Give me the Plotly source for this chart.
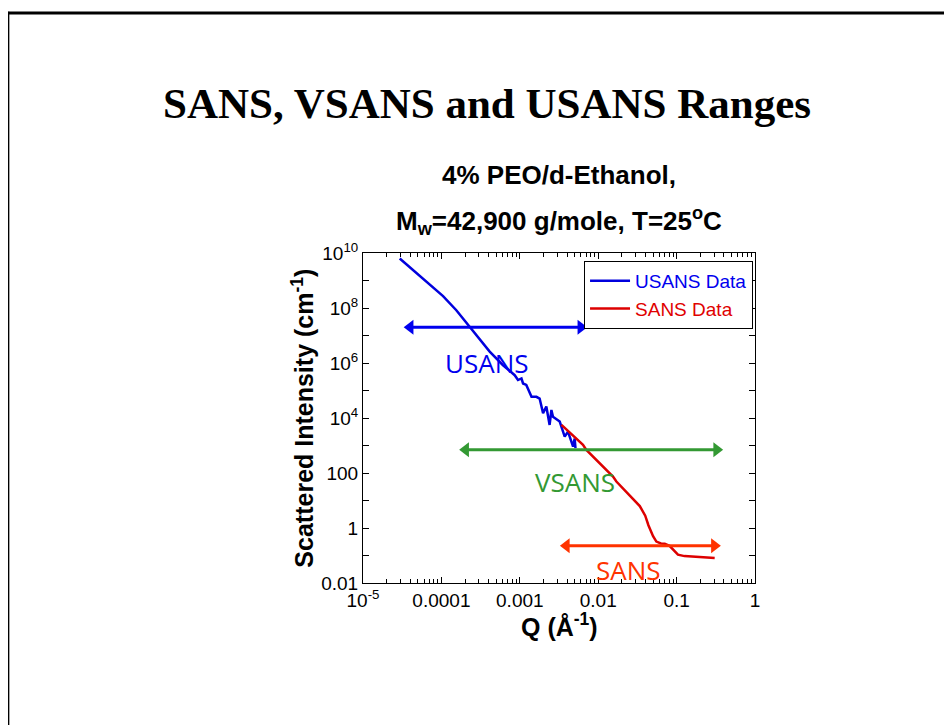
import numpy as np
import plotly.graph_objects as go

# ---------------- data ----------------
usans_q = [2.94e-5, 4.14e-5, 5.82e-5, 7.82e-5, 1.05e-4, 1.55e-4, 2.30e-4, 3.24e-4, 4.13e-4,
           6.11e-4, 8.61e-4, 9.48e-4, 1.05e-3, 1.10e-3, 1.21e-3, 1.41e-3, 1.63e-3, 1.79e-3,
           1.98e-3, 2.18e-3, 2.40e-3, 2.53e-3, 2.65e-3, 3.23e-3, 3.74e-3, 4.12e-3, 4.78e-3,
           5.01e-3, 5.13e-3]
usans_i = [6.3e9, 2.7e9, 1.17e9, 5.9e8, 2.7e8, 8.3e7, 2.0e7, 5.9e6, 2.6e6,
           8.3e5, 3.6e5, 2.4e5, 2.75e5, 1.8e5, 1.6e5, 5.9e4, 5.9e4, 5.1e4,
           1.5e4, 2.6e4, 5.6e3, 1.95e4, 1.1e4, 7.4e3, 2.1e3, 3.2e3, 910,
           1.8e3, 800]

sans_q = [3.40e-3, 6.40e-3, 7.06e-3, 0.01045, 0.01545, 0.01706, 0.0229, 0.0265, 0.0339,
          0.0398, 0.0437, 0.0501, 0.0552, 0.0631, 0.0705, 0.0813, 0.0933, 0.104, 0.126,
          0.147, 0.200, 0.306]
sans_i = [5600, 1050, 690, 229, 74, 49, 20, 13.8, 6.3,
          2.8, 1.26, 0.50, 0.32, 0.275, 0.27, 0.224, 0.141, 0.107, 0.095,
          0.093, 0.085, 0.081]

range_names = ["USANS", "VSANS", "SANS"]
range_qmin = [4.0e-5, 2.04e-4, 3.93e-3]
range_qmax = [6.0e-3, 0.324, 0.303]
range_level = [2.0e7, 700, 0.226]
range_colors = ["#0000ee", "#339933", "#ff3300"]
label_q = [3.8e-4, 5.1e-3, 0.0245]
label_i = [1.0e6, 48, 0.030]

y_tickvals = [10.0 ** k for k in range(-2, 11, 2)]
y_ticktext = ["0.01", "1", "100", "10<sup>4</sup>", "10<sup>6</sup>", "10<sup>8</sup>",
              "10<sup>10</sup>"]
y_oddticks = [10.0 ** k for k in range(-1, 10, 2)]
x_tickvals = [1e-5, 1e-4, 1e-3, 1e-2, 1e-1, 1]
x_ticktext = ["10<sup>-5</sup>", "0.0001", "0.001", "0.01", "0.1", "1"]
x_minor = [m * 10.0 ** k for k in range(-5, 0) for m in range(2, 10)]

FONT = "Liberation Sans, Arial, sans-serif"

fig = go.Figure()
fig.add_trace(go.Scatter(
    x=usans_q, y=usans_i, mode="lines",
    line=dict(color="#0000dd", width=2.5),
    name="<span style='color:#0000ee'>USANS Data</span>"))
fig.add_trace(go.Scatter(
    x=sans_q, y=sans_i, mode="lines",
    line=dict(color="#dd0000", width=2.5),
    name="<span style='color:#e00000'>SANS Data</span>"))

# range arrows (double-headed)
for q0, q1, lev, col in zip(range_qmin, range_qmax, range_level, range_colors):
    fig.add_trace(go.Scatter(
        x=[q0, q1], y=[lev, lev], mode="lines+markers", showlegend=False, hoverinfo="skip",
        line=dict(color=col, width=3),
        marker=dict(symbol=["triangle-left", "triangle-right"], size=13, color=col,
                    line=dict(width=0))))

# dummy trace so that the minor-tick overlay axes get drawn
fig.add_trace(go.Scatter(x=[sans_q[0]], y=[sans_i[0]], xaxis="x2", yaxis="y2", mode="markers",
                         marker=dict(opacity=0), showlegend=False, hoverinfo="skip"))

annotations = []
for name, col, lq, li in zip(range_names, range_colors, label_q, label_i):
    annotations.append(dict(
        x=np.log10(lq), y=np.log10(li), xref="x", yref="y", text=name, showarrow=False,
        font=dict(family="Open Sans, sans-serif", size=26, color=col)))

annotations += [
    dict(text="<b>SANS, VSANS and USANS Ranges</b>", xref="paper", yref="paper",
         x=0.316, y=1.453, showarrow=False, xanchor="center", yanchor="middle",
         font=dict(family="Liberation Serif, Times New Roman, serif", size=43, color="black")),
    dict(text="<b>4% PEO/d-Ethanol,</b>", xref="paper", yref="paper",
         x=0.5, y=1.235, showarrow=False, xanchor="center", yanchor="middle",
         font=dict(family=FONT, size=26, color="black")),
    dict(text="<b>M<sub>w</sub>=42,900 g/mole, T=25<sup>o</sup>C</b>", xref="paper", yref="paper",
         x=0.5, y=1.097, showarrow=False, xanchor="center", yanchor="middle",
         font=dict(family=FONT, size=26, color="black")),
    dict(text="<b>Scattered Intensity (cm<sup>-1</sup>)</b>", xref="paper", yref="paper",
         x=-0.154, y=0.5, showarrow=False, textangle=-90, xanchor="center", yanchor="middle",
         font=dict(family=FONT, size=25, color="black")),
    dict(text="<b>Q (Å<sup>-1</sup>)</b>", xref="paper", yref="paper",
         x=0.5, y=-0.128, showarrow=False, xanchor="center", yanchor="middle",
         font=dict(family=FONT, size=25, color="black")),
]

shapes = [
    dict(type="line", xref="paper", yref="paper", x0=-0.906, x1=1.55, y0=1.727, y1=1.727,
         line=dict(color="black", width=3)),
    dict(type="line", xref="paper", yref="paper", x0=-0.906, x1=-0.906, y0=-0.5, y1=1.731,
         line=dict(color="black", width=3)),
]

fig.update_layout(
    width=944, height=717,
    margin=dict(l=355, r=197, t=245, b=142),
    paper_bgcolor="white", plot_bgcolor="white",
    font=dict(family=FONT, size=19, color="black"),
    showlegend=True,
    legend=dict(x=0.995, y=0.976, xanchor="right", yanchor="top",
                bordercolor="black", borderwidth=1, bgcolor="white",
                font=dict(family=FONT, size=19), tracegroupgap=0, itemwidth=40),
    xaxis=dict(type="log", range=[-5, 0], tickmode="array", tickvals=x_tickvals,
               ticktext=x_ticktext, ticks="inside", ticklen=6, tickwidth=1, tickcolor="black",
               showline=True, linecolor="black", linewidth=1, mirror="ticks",
               showgrid=False, zeroline=False, tickfont=dict(size=19)),
    xaxis2=dict(type="log", range=[-5, 0], overlaying="x", anchor="y", tickmode="array",
                tickvals=x_minor, ticks="inside", ticklen=4, tickwidth=1, tickcolor="black",
                showticklabels=False, showline=False, mirror="ticks", showgrid=False,
                zeroline=False),
    yaxis=dict(type="log", range=[-2, 10], tickmode="array", tickvals=y_tickvals,
               ticktext=y_ticktext, ticks="inside", ticklen=6, tickwidth=1, tickcolor="black",
               showline=True, linecolor="black", linewidth=1, mirror="ticks",
               showgrid=False, zeroline=False, tickfont=dict(size=19)),
    yaxis2=dict(type="log", range=[-2, 10], overlaying="y", anchor="x", side="left",
                tickmode="array", tickvals=y_oddticks, ticks="inside", ticklen=6, tickwidth=1,
                tickcolor="black", showticklabels=False, showline=False, mirror="ticks",
                showgrid=False, zeroline=False),
    annotations=annotations,
    shapes=shapes,
)

fig.write_html("out.html")
